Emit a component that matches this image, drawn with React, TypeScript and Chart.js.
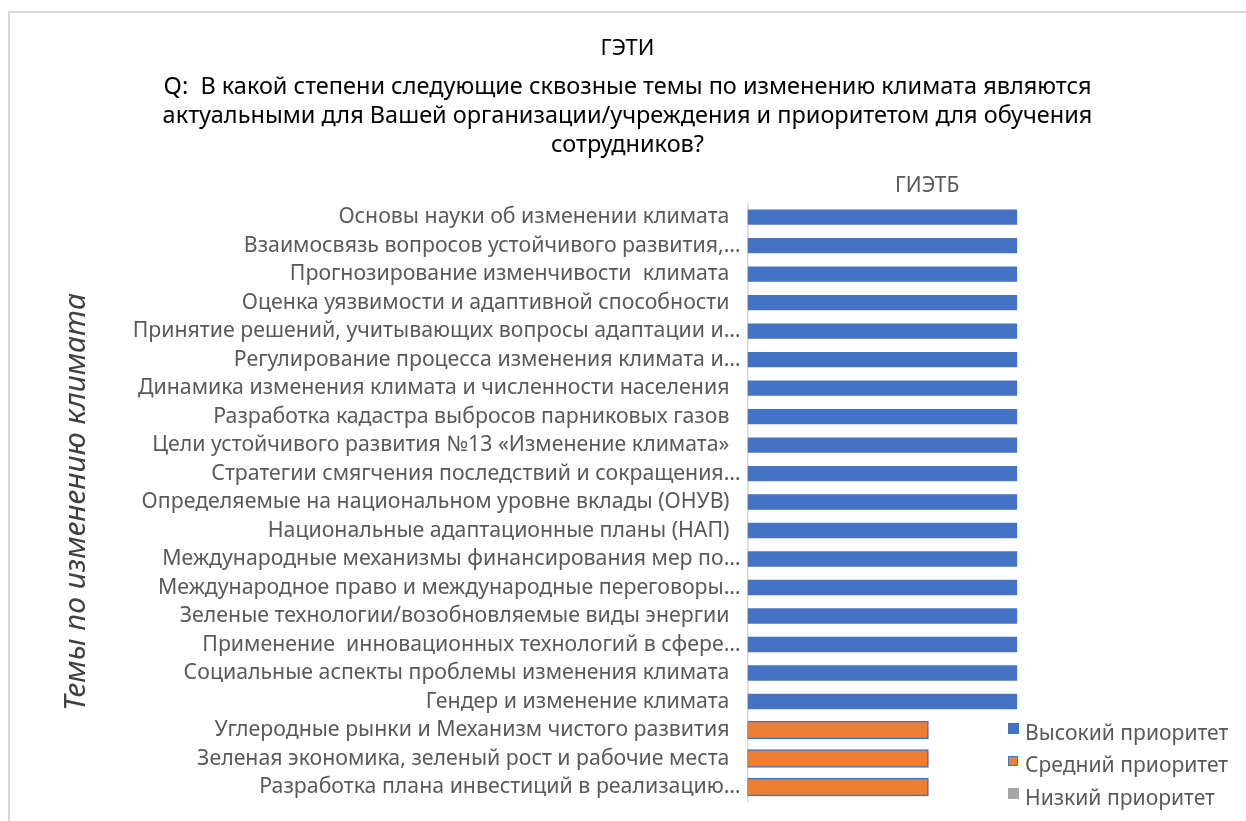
import React, { useEffect, useRef } from "react";
import { Chart, registerables } from "chart.js";

Chart.register(...registerables);

const chartTitle = "ГЭТИ";
const questionLines = [
  "Q:  В какой степени следующие сквозные темы по изменению климата являются",
  "актуальными для Вашей организации/учреждения и приоритетом для обучения",
  "сотрудников?",
];
const groupTitle = "ГИЭТБ";
const axisTitle = "Темы по изменению климата";

const categories = [
  "Основы науки об изменении климата  ",
  "Взаимосвязь вопросов устойчивого развития,…",
  "Прогнозирование изменчивости  климата  ",
  "Оценка уязвимости и адаптивной способности  ",
  "Принятие решений, учитывающих вопросы адаптации и…",
  "Регулирование процесса изменения климата и…",
  "Динамика изменения климата и численности населения  ",
  "Разработка кадастра выбросов парниковых газов  ",
  "Цели устойчивого развития №13 «Изменение климата»  ",
  "Стратегии смягчения последствий и сокращения…",
  "Определяемые на национальном уровне вклады (ОНУВ)  ",
  "Национальные адаптационные планы (НАП)  ",
  "Международные механизмы финансирования мер по…",
  "Международное право и международные переговоры…",
  "Зеленые технологии/возобновляемые виды энергии  ",
  "Применение  инновационных технологий в сфере…",
  "Социальные аспекты проблемы изменения климата  ",
  "Гендер и изменение климата  ",
  "Углеродные рынки и Механизм чистого развития  ",
  "Зеленая экономика, зеленый рост и рабочие места  ",
  "Разработка плана инвестиций в реализацию…",
];

const seriesNames = ["Высокий приоритет", "Средний приоритет", "Низкий приоритет"];
const highValues = [3, 3, 3, 3, 3, 3, 3, 3, 3, 3, 3, 3, 3, 3, 3, 3, 3, 3, null, null, null];
const mediumValues = [null, null, null, null, null, null, null, null, null, null, null, null, null, null, null, null, null, null, 2, 2, 2];
const lowValues = [null, null, null, null, null, null, null, null, null, null, null, null, null, null, null, null, null, null, null, null, null];
const xMin = 0;
const xMax = 4;

const seriesColors = ["#4472C4", "#ED7D31", "#A5A5A5"];
const FONT = "'Noto Sans', 'DejaVu Sans', sans-serif";

const PAD_LEFT = 9;
const PLOT_LEFT = 747.5;
const PLOT_RIGHT = 1107;
const W = 1246;
const H = 821;

export default function App() {
  const canvasRef = useRef<HTMLCanvasElement | null>(null);

  useEffect(() => {
    if (!canvasRef.current) return;
    const chart = new Chart(canvasRef.current, {
      type: "bar",
      data: {
        labels: categories,
        datasets: [
          {
            label: seriesNames[0],
            data: highValues,
            backgroundColor: seriesColors[0],
            barPercentage: 0.54,
            categoryPercentage: 1,
            yAxisID: "y",
            xAxisID: "x",
          },
          {
            label: seriesNames[1],
            data: mediumValues,
            backgroundColor: seriesColors[1],
            borderColor: "#4472C4",
            borderWidth: 1.5,
            borderSkipped: false,
            inflateAmount: 1.5,
            barPercentage: 0.54,
            categoryPercentage: 1,
            yAxisID: "y",
            xAxisID: "x",
          },
          {
            label: seriesNames[2],
            data: lowValues,
            backgroundColor: seriesColors[2],
            barPercentage: 0.54,
            categoryPercentage: 1,
            yAxisID: "y",
            xAxisID: "x",
          },
        ],
      },
      options: {
        indexAxis: "y",
        animation: false,
        responsive: false,
        maintainAspectRatio: false,
        layout: { padding: { left: PAD_LEFT, right: 0, top: 0, bottom: 18 } },
        plugins: {
          legend: { display: false },
          tooltip: { enabled: false },
          title: {
            display: true,
            text: chartTitle,
            color: "#000000",
            font: { family: FONT, size: 22, weight: "normal", lineHeight: 1.2 },
            padding: { top: 35.5, bottom: 10.5 },
          },
          subtitle: {
            display: true,
            text: questionLines,
            color: "#000000",
            font: { family: FONT, size: 23.5, weight: "normal", lineHeight: 29 / 23.5 },
            padding: { top: 0, bottom: 0 },
          },
        },
        scales: {
          x: {
            position: "top",
            stacked: true,
            min: xMin,
            max: xMax,
            grid: { display: false, drawTicks: false },
            border: { display: false },
            ticks: { display: false },
            title: {
              display: true,
              text: groupTitle,
              color: "#595959",
              font: { family: FONT, size: 21, lineHeight: 1.2 },
              padding: { top: 14.5, bottom: 0 },
            },
            afterFit: (s: any) => {
              s.height = 202 - 158.5;
            },
          },
          y: {
            stacked: true,
            grid: { display: false, drawTicks: false },
            border: { display: true, color: "#d9d9d9", width: 1.5 },
            ticks: {
              autoSkip: false,
              color: "#595959",
              font: { family: FONT, size: 21.3 },
              padding: 7,
            },
            title: {
              display: true,
              text: axisTitle,
              color: "#404040",
              font: { family: FONT, size: 30, style: "italic", lineHeight: 1.2 },
              padding: { top: 49.5, bottom: 0 },
            },
            afterFit: (s: any) => {
              s.width = PLOT_LEFT - PAD_LEFT;
            },
          },
          yRight: {
            type: "category",
            position: "right",
            display: true,
            grid: { display: false, drawTicks: false },
            border: { display: false },
            ticks: { display: false },
            afterFit: (s: any) => {
              s.width = W - PLOT_RIGHT;
            },
          },
        },
      },
    } as any);
    return () => chart.destroy();
  }, []);

  const legendRows = [728.5, 761, 793.5];

  return (
    <div
      style={{
        position: "fixed",
        left: 0,
        top: 0,
        width: W,
        height: H,
        overflow: "hidden",
        background: "#ffffff",
      }}
    >
      <div
        style={{
          position: "absolute",
          left: 8,
          top: 11,
          width: 1400,
          height: 1000,
          borderLeft: "2px solid #d9d9d9",
          borderTop: "2px solid #d9d9d9",
        }}
      />
      <canvas
        ref={canvasRef}
        width={W}
        height={H}
        style={{ position: "absolute", left: 0, top: 0, width: W, height: H }}
      />
      {seriesNames.map((name, i) => (
        <React.Fragment key={name}>
          <div
            style={{
              position: "absolute",
              left: 1008,
              top: legendRows[i] - 5.5,
              width: i === 1 ? 8 : 11,
              height: i === 1 ? 8 : 11,
              background: seriesColors[i],
              border: i === 1 ? "1.5px solid #4472C4" : "none",
            }}
          />
          <div
            style={{
              position: "absolute",
              left: 1025,
              top: legendRows[i] + 3 - 12,
              height: 24,
              lineHeight: "24px",
              fontFamily: FONT,
              fontSize: 21.1,
              color: "#595959",
              whiteSpace: "nowrap",
            }}
          >
            {name}
          </div>
        </React.Fragment>
      ))}
    </div>
  );
}
